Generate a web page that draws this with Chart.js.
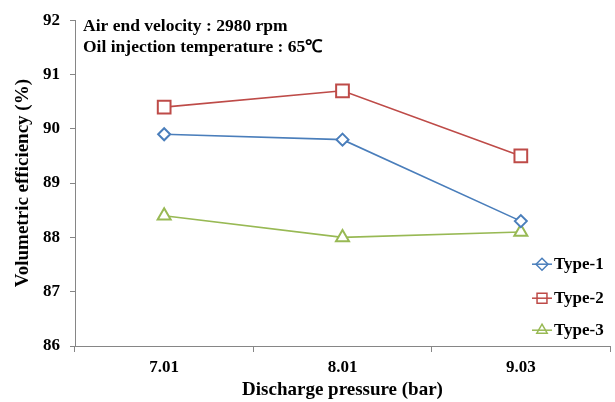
<!DOCTYPE html>
<html>
<head>
<meta charset="utf-8">
<script src="https://cdn.jsdelivr.net/npm/chart.js@4"></script>
<style>
  html, body { margin: 0; padding: 0; background: #fff; }
  #wrap { width: 615px; height: 402px; }
</style>
</head>
<body>
<div id="wrap"><canvas id="chart" width="615" height="402"></canvas></div>
<script>
// data
var pressures = ['7.01', '8.01', '9.03'];
var type1 = [89.9, 89.8, 88.3];
var type2 = [90.4, 90.7, 89.5];
var type3 = [88.4, 88.0, 88.1];
var seriesNames = ['Type-1', 'Type-2', 'Type-3'];
var noteLines = ['Air end velocity : 2980 rpm', 'Oil injection temperature : 65\u2103'];

var serif = "'Liberation Serif', 'Times New Roman', serif";
var colors = ['#4a7ebb', '#be4b48', '#98b954'];
var styles = ['rectRot', 'rect', 'triangle'];
var radii = [6, 9, 7.5];

// text block in the upper left of the plot
var notePlugin = {
    id: 'note',
    afterDraw: function(chart) {
        var ctx = chart.ctx;
        var area = chart.chartArea;
        ctx.save();
        ctx.font = 'bold 17.5px ' + serif;
        ctx.fillStyle = '#000';
        ctx.textBaseline = 'middle';
        ctx.fillText(noteLines[0], area.left + 8, area.top + 6);
        ctx.fillText(noteLines[1], area.left + 8, area.top + 27);
        ctx.restore();
    }
};

// legend drawn inside the plot, lower right
var legendPlugin = {
    id: 'innerLegend',
    afterDraw: function(chart) {
        var ctx = chart.ctx;
        var area = chart.chartArea;
        var x0 = area.right - 78;
        var ys = [area.top + 244, area.top + 278, area.top + 310];
        ctx.save();
        chart.data.datasets.forEach(function(ds, i) {
            var y = ys[i];
            ctx.strokeStyle = ds.borderColor;
            ctx.lineWidth = 1.5;
            ctx.beginPath();
            ctx.moveTo(x0, y);
            ctx.lineTo(x0 + 20, y);
            ctx.stroke();
            ctx.fillStyle = 'rgba(0,0,0,0)';
            Chart.helpers.drawPoint(ctx, {
                pointStyle: ds.pointStyle,
                radius: ds.pointStyle === 'rect' ? 7 : 6,
                borderWidth: 1.5,
                rotation: 0
            }, x0 + 10, y);
            ctx.fillStyle = '#000';
            ctx.font = 'bold 17px ' + serif;
            ctx.textBaseline = 'middle';
            ctx.fillText(ds.label, x0 + 22, y);
        });
        ctx.restore();
    }
};

var allSeries = [type1, type2, type3];
var datasets = allSeries.map(function(vals, i) {
    return {
        label: seriesNames[i],
        data: vals,
        borderColor: colors[i],
        backgroundColor: '#fff',
        borderWidth: 1.6,
        pointStyle: styles[i],
        pointRadius: radii[i],
        pointBorderWidth: 2,
        pointBackgroundColor: '#fff',
        pointBorderColor: colors[i],
        tension: 0
    };
});

var ctx = document.getElementById('chart').getContext('2d');
new Chart(ctx, {
    type: 'line',
    data: { labels: pressures, datasets: datasets },
    options: {
        responsive: false,
        animation: false,
        layout: { autoPadding: false, padding: { left: 12, right: 5, top: 18, bottom: 0 } },
        plugins: {
            legend: { display: false },
            tooltip: { enabled: false }
        },
        scales: {
            x: {
                offset: true,
                border: { color: '#868686', width: 1 },
                grid: { drawOnChartArea: false, drawTicks: true, tickLength: 6, color: '#868686', offset: true },
                ticks: { color: '#000', font: { family: serif, size: 17, weight: 'bold' }, padding: 5 },
                title: {
                    display: true,
                    text: 'Discharge pressure (bar)',
                    color: '#000',
                    font: { family: serif, size: 19, weight: 'bold' },
                    padding: { top: 2, bottom: 1 }
                },
                afterFit: function(scale) { scale.height = 56; }
            },
            y: {
                min: 86,
                max: 92,
                border: { color: '#868686', width: 1 },
                grid: { drawOnChartArea: false, drawTicks: true, tickLength: 5, color: '#868686' },
                ticks: { stepSize: 1, color: '#000', font: { family: serif, size: 17, weight: 'bold' }, padding: 10 },
                title: {
                    display: true,
                    text: 'Volumetric efficiency (%)',
                    color: '#000',
                    font: { family: serif, size: 19, weight: 'bold' },
                    padding: { top: 0, bottom: 6 }
                },
                afterFit: function(scale) { scale.width = 63; }
            }
        }
    },
    plugins: [notePlugin, legendPlugin]
});
</script>
</body>
</html>
